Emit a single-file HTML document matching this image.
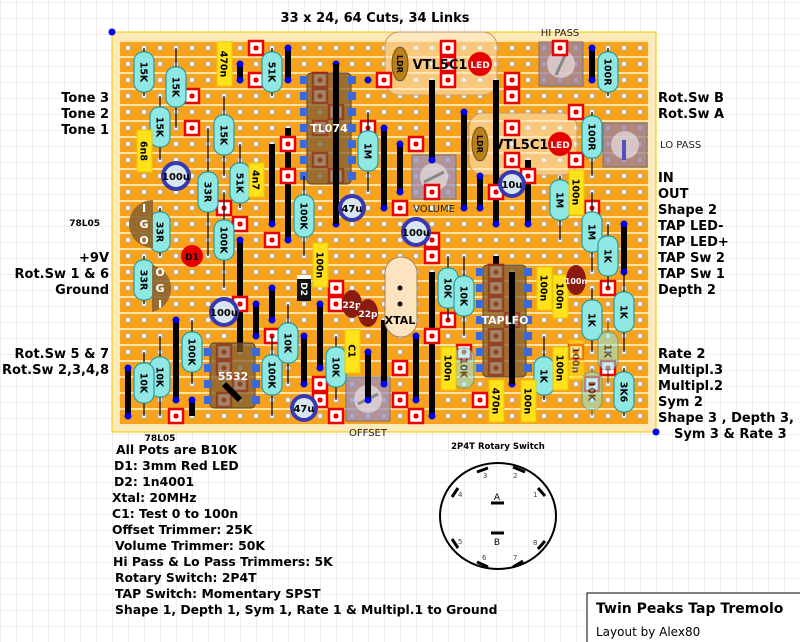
<!DOCTYPE html>
<html><head><meta charset="utf-8"><style>
html,body{margin:0;padding:0;background:#fff}
svg{display:block}
text{font-family:"DejaVu Sans","Liberation Sans",sans-serif}
.lb{font-size:13px;font-weight:bold;fill:#000}
.lb2{font-size:12.4px;font-weight:bold;fill:#000}
.ct{font-size:9.5px;font-weight:bold;fill:#000}
.r rect{fill:#8fe8e4;stroke:#2a9a9a;stroke-width:1.2}
.fd{opacity:.55}
.y rect{fill:#ffe21a;stroke:#e8c800}
.bd{fill:#0000ee}
.lk{stroke:#000;stroke-width:6}
.ld{stroke:#000;stroke-width:1.2}
.ic{fill:#7a5a30;fill-opacity:.72;stroke:#5a4020}
</style></head><body>
<svg width="800" height="642" viewBox="0 0 800 642" xmlns="http://www.w3.org/2000/svg">
<defs>
<pattern id="grid" x="0" y="2" width="16" height="16" patternUnits="userSpaceOnUse">
<path d="M0 0H16M0 0V16" stroke="#dcdcdc" stroke-width="1" fill="none"/></pattern>
<pattern id="strip" x="120" y="40" width="16" height="16" patternUnits="userSpaceOnUse">
<rect width="16" height="16" fill="#f7a21d"/><rect y="0" width="16" height="2" fill="#fde3a8"/>
<circle cx="8" cy="8" r="2.6" fill="#f4f4f4" stroke="#a8a8a8" stroke-width="0.8"/></pattern>
<g id="cut"><rect x="-7" y="-7" width="14" height="14" fill="#fff" stroke="#e00" stroke-width="2.5"/><circle r="2.6" fill="#e00"/></g>
</defs>
<rect width="800" height="642" fill="#fff"/>
<rect width="800" height="642" fill="url(#grid)"/>
<text x="375" y="22" class="lb" text-anchor="middle">33 x 24, 64 Cuts, 34 Links</text>
<!-- board -->
<rect x="112" y="32" width="544" height="400" fill="#fdeab8" stroke="#f0c800"/>
<rect x="120" y="40" width="528" height="384" fill="url(#strip)"/>
<circle cx="112" cy="32" r="3.5" class="bd"/><circle cx="656" cy="432" r="3.5" class="bd"/>

<!-- VTL boxes -->
<rect x="385" y="32" width="112" height="63" rx="14" fill="#fde8c8" fill-opacity=".55" stroke="#c89a60"/>
<rect x="469" y="113" width="108" height="62" rx="14" fill="#fde8c8" fill-opacity=".55" stroke="#c89a60"/>

<!-- trimmers -->
<g>
<rect x="412" y="155" width="44" height="44" fill="#9a8fc0" fill-opacity=".75" stroke="#777"/><circle cx="434" cy="177" r="14" fill="#eee" fill-opacity=".6"/><line x1="424" y1="182" x2="444" y2="172" stroke="#888" stroke-width="3"/>
<rect x="346" y="377" width="44" height="44" fill="#9a8fc0" fill-opacity=".75" stroke="#777"/><circle cx="368" cy="399" r="14" fill="#eee" fill-opacity=".6"/><line x1="358" y1="404" x2="378" y2="394" stroke="#888" stroke-width="3"/>
<rect x="539" y="42" width="44" height="44" fill="#9a7fa0" fill-opacity=".75" stroke="#777"/><circle cx="561" cy="64" r="14" fill="#eee" fill-opacity=".6"/><line x1="556" y1="75" x2="566" y2="53" stroke="#888" stroke-width="3"/>
<rect x="603" y="123" width="44" height="44" fill="#9a7fa0" fill-opacity=".75" stroke="#777"/><circle cx="625" cy="145" r="14" fill="#eee" fill-opacity=".6"/><line x1="624" y1="140" x2="624" y2="160" stroke="#5050c0" stroke-width="4"/>
</g>
<text x="434" y="212" font-size="10" text-anchor="middle" fill="#222">VOLUME</text>
<text x="368" y="436" font-size="10" text-anchor="middle" fill="#222">OFFSET</text>
<text x="560" y="36" font-size="10" text-anchor="middle" fill="#222">HI PASS</text>
<text x="660" y="148" font-size="10" fill="#222">LO PASS</text>

<!-- links -->
<g class="lk">
<line x1="240" y1="64" x2="240" y2="80"/><line x1="288" y1="48" x2="288" y2="80"/>
<line x1="272" y1="144" x2="272" y2="224"/><line x1="288" y1="128" x2="288" y2="240"/>
<line x1="384" y1="128" x2="384" y2="208"/><line x1="400" y1="144" x2="400" y2="192"/>
<line x1="432" y1="80" x2="432" y2="160"/><line x1="464" y1="112" x2="464" y2="208"/>
<line x1="496" y1="80" x2="496" y2="224"/><line x1="528" y1="160" x2="528" y2="224"/>
<line x1="480" y1="176" x2="480" y2="208"/><line x1="592" y1="48" x2="592" y2="80"/>
<line x1="624" y1="224" x2="624" y2="272"/><line x1="496" y1="256" x2="496" y2="272"/>
<line x1="240" y1="240" x2="240" y2="352"/><line x1="256" y1="304" x2="256" y2="336"/>
<line x1="272" y1="288" x2="272" y2="320"/><line x1="304" y1="336" x2="304" y2="384"/>
<line x1="176" y1="320" x2="176" y2="400"/><line x1="128" y1="368" x2="128" y2="416"/>
<line x1="192" y1="400" x2="192" y2="416"/><line x1="320" y1="304" x2="320" y2="368"/>
<line x1="384" y1="320" x2="384" y2="384"/><line x1="432" y1="272" x2="432" y2="416"/>
<line x1="416" y1="336" x2="416" y2="400"/><line x1="368" y1="352" x2="368" y2="400"/>
</g>
<g class="bd">
<circle cx="240" cy="64" r="3.5"/><circle cx="240" cy="80" r="3.5"/><circle cx="288" cy="48" r="3.5"/><circle cx="288" cy="80" r="3.5"/>
<circle cx="272" cy="224" r="3.5"/><circle cx="288" cy="240" r="3.5"/><circle cx="336" cy="224" r="3.5"/><circle cx="368" cy="80" r="3.5"/>
<circle cx="384" cy="128" r="3.5"/><circle cx="384" cy="208" r="3.5"/><circle cx="400" cy="144" r="3.5"/><circle cx="400" cy="192" r="3.5"/>
<circle cx="432" cy="160" r="3.5"/><circle cx="464" cy="112" r="3.5"/><circle cx="464" cy="208" r="3.5"/><circle cx="496" cy="224" r="3.5"/>
<circle cx="528" cy="224" r="3.5"/><circle cx="480" cy="176" r="3.5"/><circle cx="480" cy="208" r="3.5"/><circle cx="592" cy="48" r="3.5"/><circle cx="592" cy="80" r="3.5"/>
<circle cx="624" cy="224" r="3.5"/><circle cx="624" cy="272" r="3.5"/><circle cx="240" cy="240" r="3.5"/><circle cx="256" cy="304" r="3.5"/><circle cx="256" cy="336" r="3.5"/>
<circle cx="272" cy="288" r="3.5"/><circle cx="272" cy="320" r="3.5"/><circle cx="304" cy="336" r="3.5"/><circle cx="304" cy="384" r="3.5"/>
<circle cx="176" cy="320" r="3.5"/><circle cx="176" cy="400" r="3.5"/><circle cx="128" cy="368" r="3.5"/><circle cx="128" cy="416" r="3.5"/>
<circle cx="192" cy="400" r="3.5"/><circle cx="320" cy="304" r="3.5"/><circle cx="320" cy="368" r="3.5"/><circle cx="384" cy="384" r="3.5"/>
<circle cx="432" cy="416" r="3.5"/><circle cx="416" cy="336" r="3.5"/><circle cx="416" cy="400" r="3.5"/><circle cx="368" cy="352" r="3.5"/><circle cx="368" cy="400" r="3.5"/>
<circle cx="512" cy="384" r="3.5"/><circle cx="336" cy="64" r="3.5"/>
</g>

<!-- cuts -->
<g>
<use href="#cut" x="256" y="48"/><use href="#cut" x="256" y="80"/><use href="#cut" x="192" y="96"/><use href="#cut" x="192" y="128"/>
<use href="#cut" x="288" y="144"/><use href="#cut" x="224" y="208"/><use href="#cut" x="240" y="224"/><use href="#cut" x="272" y="240"/>
<use href="#cut" x="288" y="176"/><use href="#cut" x="384" y="80"/><use href="#cut" x="448" y="48"/><use href="#cut" x="448" y="80"/>
<use href="#cut" x="368" y="128"/><use href="#cut" x="416" y="144"/><use href="#cut" x="432" y="192"/><use href="#cut" x="400" y="208"/>
<use href="#cut" x="512" y="80"/><use href="#cut" x="512" y="96"/><use href="#cut" x="576" y="112"/><use href="#cut" x="512" y="128"/>
<use href="#cut" x="512" y="160"/><use href="#cut" x="576" y="160"/><use href="#cut" x="528" y="176"/><use href="#cut" x="496" y="192"/>
<use href="#cut" x="592" y="208"/><use href="#cut" x="608" y="288"/><use href="#cut" x="608" y="368"/><use href="#cut" x="592" y="384"/>
<use href="#cut" x="576" y="352"/><use href="#cut" x="480" y="400"/><use href="#cut" x="448" y="320"/><use href="#cut" x="432" y="240"/>
<use href="#cut" x="432" y="256"/><use href="#cut" x="432" y="336"/><use href="#cut" x="464" y="352"/><use href="#cut" x="336" y="288"/>
<use href="#cut" x="336" y="304"/><use href="#cut" x="320" y="384"/><use href="#cut" x="320" y="400"/><use href="#cut" x="336" y="416"/>
<use href="#cut" x="416" y="416"/><use href="#cut" x="400" y="368"/><use href="#cut" x="400" y="400"/><use href="#cut" x="240" y="304"/>
<use href="#cut" x="272" y="336"/><use href="#cut" x="176" y="416"/><use href="#cut" x="560" y="48"/><use href="#cut" x="448" y="64"/>
<use href="#cut" x="320" y="80"/><use href="#cut" x="320" y="96"/><use href="#cut" x="336" y="112"/><use href="#cut" x="320" y="128"/>
<use href="#cut" x="320" y="160"/><use href="#cut" x="336" y="176"/>
<use href="#cut" x="496" y="272"/><use href="#cut" x="496" y="288"/><use href="#cut" x="496" y="304"/><use href="#cut" x="512" y="320"/>
<use href="#cut" x="496" y="336"/><use href="#cut" x="496" y="352"/><use href="#cut" x="496" y="368"/>
<use href="#cut" x="224" y="352"/><use href="#cut" x="224" y="368"/><use href="#cut" x="240" y="384"/><use href="#cut" x="224" y="400"/>
</g>

<!-- ICs (on top of cuts) -->
<g>
<rect x="307" y="73" width="44" height="111" rx="4" class="ic"/>
<line x1="336" y1="64" x2="336" y2="224" class="lk"/>
<g fill="#3a6ae0"><rect x="300" y="76" width="8" height="8"/><rect x="300" y="92" width="8" height="8"/><rect x="300" y="108" width="8" height="8"/><rect x="300" y="124" width="8" height="8"/><rect x="300" y="140" width="8" height="8"/><rect x="300" y="156" width="8" height="8"/><rect x="300" y="172" width="8" height="8"/>
<rect x="348" y="76" width="8" height="8"/><rect x="348" y="92" width="8" height="8"/><rect x="348" y="108" width="8" height="8"/><rect x="348" y="124" width="8" height="8"/><rect x="348" y="140" width="8" height="8"/><rect x="348" y="156" width="8" height="8"/><rect x="348" y="172" width="8" height="8"/></g>
<text x="329" y="132" font-size="11" font-weight="bold" fill="#fff" text-anchor="middle">TL074</text>
<rect x="483" y="265" width="43" height="112" rx="4" class="ic"/>
<line x1="512" y1="272" x2="512" y2="384" class="lk"/>
<g fill="#3a6ae0"><rect x="476" y="268" width="8" height="8"/><rect x="476" y="284" width="8" height="8"/><rect x="476" y="300" width="8" height="8"/><rect x="476" y="316" width="8" height="8"/><rect x="476" y="332" width="8" height="8"/><rect x="476" y="348" width="8" height="8"/><rect x="476" y="364" width="8" height="8"/>
<rect x="524" y="268" width="8" height="8"/><rect x="524" y="284" width="8" height="8"/><rect x="524" y="300" width="8" height="8"/><rect x="524" y="316" width="8" height="8"/><rect x="524" y="332" width="8" height="8"/><rect x="524" y="348" width="8" height="8"/><rect x="524" y="364" width="8" height="8"/></g>
<text x="505" y="324" font-size="11" font-weight="bold" fill="#fff" text-anchor="middle">TAPLFO</text>
<rect x="210" y="343" width="45" height="65" rx="4" class="ic"/>
<g fill="#3a6ae0"><rect x="204" y="348" width="8" height="8"/><rect x="204" y="364" width="8" height="8"/><rect x="204" y="380" width="8" height="8"/><rect x="204" y="396" width="8" height="8"/>
<rect x="252" y="348" width="8" height="8"/><rect x="252" y="364" width="8" height="8"/><rect x="252" y="380" width="8" height="8"/><rect x="252" y="396" width="8" height="8"/></g>
<line x1="224" y1="384" x2="240" y2="400" class="lk"/>
<text x="233" y="380" font-size="11" font-weight="bold" fill="#fff" text-anchor="middle">5532</text>
</g>

<!-- resistors -->
<g class="r">
<g><line x1="144" y1="48" x2="144" y2="96" class="ld"/><rect x="134" y="52" width="20" height="40" rx="9"/><text class="ct" transform="translate(144,72) rotate(90)" text-anchor="middle" dy="3.5">15K</text></g>
<g><line x1="176" y1="48" x2="176" y2="128" class="ld"/><rect x="166" y="67" width="20" height="40" rx="9"/><text class="ct" transform="translate(176,87) rotate(90)" text-anchor="middle" dy="3.5">15K</text></g>
<g><line x1="160" y1="96" x2="160" y2="160" class="ld"/><rect x="150" y="107" width="20" height="40" rx="9"/><text class="ct" transform="translate(160,127) rotate(90)" text-anchor="middle" dy="3.5">15K</text></g>
<g><line x1="224" y1="96" x2="224" y2="176" class="ld"/><rect x="214" y="115" width="20" height="40" rx="9"/><text class="ct" transform="translate(224,135) rotate(90)" text-anchor="middle" dy="3.5">15K</text></g>
<g><line x1="272" y1="48" x2="272" y2="96" class="ld"/><rect x="262" y="52" width="20" height="40" rx="9"/><text class="ct" transform="translate(272,72) rotate(90)" text-anchor="middle" dy="3.5">51K</text></g>
<g><line x1="208" y1="128" x2="208" y2="256" class="ld"/><rect x="198" y="172" width="20" height="40" rx="9"/><text class="ct" transform="translate(208,192) rotate(90)" text-anchor="middle" dy="3.5">33R</text></g>
<g><line x1="240" y1="144" x2="240" y2="208" class="ld"/><rect x="230" y="163" width="20" height="40" rx="9"/><text class="ct" transform="translate(240,183) rotate(90)" text-anchor="middle" dy="3.5">51K</text></g>
<g><line x1="224" y1="192" x2="224" y2="288" class="ld"/><rect x="214" y="220" width="20" height="40" rx="9"/><text class="ct" transform="translate(224,240) rotate(90)" text-anchor="middle" dy="3.5">100K</text></g>
<g><line x1="304" y1="176" x2="304" y2="256" class="ld"/><rect x="294" y="195" width="20" height="42" rx="9"/><text class="ct" transform="translate(304,216) rotate(90)" text-anchor="middle" dy="3.5">100K</text></g>
<g><line x1="160" y1="208" x2="160" y2="256" class="ld"/><rect x="150" y="212" width="20" height="40" rx="9"/><text class="ct" transform="translate(160,232) rotate(90)" text-anchor="middle" dy="3.5">33R</text></g>
<g><line x1="144" y1="256" x2="144" y2="304" class="ld"/><rect x="134" y="260" width="20" height="40" rx="9"/><text class="ct" transform="translate(144,280) rotate(90)" text-anchor="middle" dy="3.5">33R</text></g>
<g><line x1="192" y1="320" x2="192" y2="384" class="ld"/><rect x="182" y="332" width="20" height="40" rx="9"/><text class="ct" transform="translate(192,352) rotate(90)" text-anchor="middle" dy="3.5">100K</text></g>
<g><line x1="160" y1="336" x2="160" y2="416" class="ld"/><rect x="150" y="357" width="20" height="40" rx="9"/><text class="ct" transform="translate(160,377) rotate(90)" text-anchor="middle" dy="3.5">10K</text></g>
<g><line x1="144" y1="352" x2="144" y2="416" class="ld"/><rect x="134" y="363" width="20" height="40" rx="9"/><text class="ct" transform="translate(144,383) rotate(90)" text-anchor="middle" dy="3.5">10K</text></g>
<g><line x1="272" y1="336" x2="272" y2="416" class="ld"/><rect x="262" y="355" width="20" height="40" rx="9"/><text class="ct" transform="translate(272,375) rotate(90)" text-anchor="middle" dy="3.5">100K</text></g>
<g><line x1="288" y1="304" x2="288" y2="384" class="ld"/><rect x="278" y="323" width="20" height="40" rx="9"/><text class="ct" transform="translate(288,343) rotate(90)" text-anchor="middle" dy="3.5">10K</text></g>
<g><line x1="368" y1="112" x2="368" y2="192" class="ld"/><rect x="358" y="131" width="20" height="40" rx="9"/><text class="ct" transform="translate(368,151) rotate(90)" text-anchor="middle" dy="3.5">1M</text></g>
<g><line x1="336" y1="336" x2="336" y2="400" class="ld"/><rect x="326" y="347" width="20" height="40" rx="9"/><text class="ct" transform="translate(336,367) rotate(90)" text-anchor="middle" dy="3.5">10K</text></g>
<g><line x1="448" y1="256" x2="448" y2="320" class="ld"/><rect x="438" y="268" width="20" height="40" rx="9"/><text class="ct" transform="translate(448,288) rotate(90)" text-anchor="middle" dy="3.5">10K</text></g>
<g><line x1="464" y1="256" x2="464" y2="336" class="ld"/><rect x="454" y="276" width="20" height="40" rx="9"/><text class="ct" transform="translate(464,296) rotate(90)" text-anchor="middle" dy="3.5">10K</text></g>
<g class="fd"><line x1="464" y1="352" x2="464" y2="384" class="ld"/><rect x="454" y="348" width="20" height="40" rx="9"/><text class="ct" transform="translate(464,368) rotate(90)" text-anchor="middle" dy="3.5">10K</text></g>
<g><line x1="560" y1="176" x2="560" y2="240" class="ld"/><rect x="550" y="180" width="20" height="40" rx="9"/><text class="ct" transform="translate(560,200) rotate(90)" text-anchor="middle" dy="3.5">1M</text></g>
<g><line x1="592" y1="192" x2="592" y2="272" class="ld"/><rect x="582" y="212" width="20" height="40" rx="9"/><text class="ct" transform="translate(592,232) rotate(90)" text-anchor="middle" dy="3.5">1M</text></g>
<g><line x1="608" y1="224" x2="608" y2="288" class="ld"/><rect x="598" y="236" width="20" height="40" rx="9"/><text class="ct" transform="translate(608,256) rotate(90)" text-anchor="middle" dy="3.5">1K</text></g>
<g><line x1="592" y1="288" x2="592" y2="352" class="ld"/><rect x="582" y="300" width="20" height="40" rx="9"/><text class="ct" transform="translate(592,320) rotate(90)" text-anchor="middle" dy="3.5">1K</text></g>
<g><line x1="624" y1="272" x2="624" y2="352" class="ld"/><rect x="614" y="292" width="20" height="40" rx="9"/><text class="ct" transform="translate(624,312) rotate(90)" text-anchor="middle" dy="3.5">1K</text></g>
<g class="fd"><line x1="608" y1="320" x2="608" y2="384" class="ld"/><rect x="598" y="332" width="20" height="38" rx="9"/><text class="ct" transform="translate(608,351) rotate(90)" text-anchor="middle" dy="3.5">1K</text></g>
<g class="fd"><line x1="592" y1="368" x2="592" y2="416" class="ld"/><rect x="582" y="372" width="20" height="38" rx="9"/><text class="ct" transform="translate(592,391) rotate(90)" text-anchor="middle" dy="3.5">10K</text></g>
<g><line x1="624" y1="368" x2="624" y2="416" class="ld"/><rect x="614" y="372" width="20" height="40" rx="9"/><text class="ct" transform="translate(624,392) rotate(90)" text-anchor="middle" dy="3.5">3K6</text></g>
<g><line x1="544" y1="336" x2="544" y2="400" class="ld"/><rect x="534" y="357" width="20" height="38" rx="9"/><text class="ct" transform="translate(544,376) rotate(90)" text-anchor="middle" dy="3.5">1K</text></g>
<g><line x1="608" y1="48" x2="608" y2="96" class="ld"/><rect x="598" y="52" width="20" height="40" rx="9"/><text class="ct" transform="translate(608,72) rotate(90)" text-anchor="middle" dy="3.5">100R</text></g>
<g><line x1="592" y1="112" x2="592" y2="176" class="ld"/><rect x="582" y="116" width="20" height="42" rx="9"/><text class="ct" transform="translate(592,137) rotate(90)" text-anchor="middle" dy="3.5">100R</text></g>
</g>

<!-- film caps -->
<g class="y">
<g><rect x="217" y="42" width="15" height="44"/><text class="ct" transform="translate(224,64) rotate(90)" text-anchor="middle" dy="3.5">470n</text></g>
<g><rect x="137" y="130" width="15" height="42"/><text class="ct" transform="translate(144,151) rotate(90)" text-anchor="middle" dy="3.5">6n8</text></g>
<g><rect x="249" y="163" width="15" height="34"/><text class="ct" transform="translate(256,180) rotate(90)" text-anchor="middle" dy="3.5">4n7</text></g>
<g><rect x="313" y="243" width="15" height="44"/><text class="ct" transform="translate(320,265) rotate(90)" text-anchor="middle" dy="3.5">100n</text></g>
<g><rect x="345" y="330" width="15" height="43"/><text class="ct" transform="translate(352,351) rotate(90)" text-anchor="middle" dy="3.5">C1</text></g>
<g><rect x="441" y="347" width="15" height="43"/><text class="ct" transform="translate(448,368) rotate(90)" text-anchor="middle" dy="3.5">100n</text></g>
<g><rect x="489" y="380" width="15" height="42"/><text class="ct" transform="translate(496,401) rotate(90)" text-anchor="middle" dy="3.5">470n</text></g>
<g><rect x="521" y="380" width="15" height="42"/><text class="ct" transform="translate(528,401) rotate(90)" text-anchor="middle" dy="3.5">100n</text></g>
<g><rect x="537" y="267" width="15" height="43"/><text class="ct" transform="translate(544,288) rotate(90)" text-anchor="middle" dy="3.5">100n</text></g>
<g><rect x="553" y="275" width="15" height="43"/><text class="ct" transform="translate(560,296) rotate(90)" text-anchor="middle" dy="3.5">100n</text></g>
<g><rect x="553" y="347" width="15" height="43"/><text class="ct" transform="translate(560,368) rotate(90)" text-anchor="middle" dy="3.5">100n</text></g>
<g><rect x="569" y="170" width="15" height="45"/><text class="ct" transform="translate(576,192) rotate(90)" text-anchor="middle" dy="3.5">100n</text></g>
<g class="fd"><rect x="569" y="340" width="15" height="40"/><text class="ct" transform="translate(576,360) rotate(90)" text-anchor="middle" dy="3.5">100n</text></g>
</g>

<!-- electrolytics -->
<g font-size="10" font-weight="bold" text-anchor="middle">
<circle cx="176" cy="176" r="15" fill="#3838b0"/><circle cx="176" cy="176" r="11" fill="#d8e6f0"/><text x="176" y="180">100u</text>
<circle cx="224" cy="312" r="15" fill="#3838b0"/><circle cx="224" cy="312" r="11" fill="#d8e6f0"/><text x="224" y="316">100u</text>
<circle cx="352" cy="208" r="14" fill="#3838b0"/><circle cx="352" cy="208" r="10" fill="#d8e6f0"/><text x="352" y="212">47u</text>
<circle cx="416" cy="232" r="15" fill="#3838b0"/><circle cx="416" cy="232" r="11" fill="#d8e6f0"/><text x="416" y="236">100u</text>
<circle cx="512" cy="184" r="14" fill="#3838b0"/><circle cx="512" cy="184" r="10" fill="#d8e6f0"/><text x="512" y="188">10u</text>
<circle cx="304" cy="408" r="14" fill="#3838b0"/><circle cx="304" cy="408" r="10" fill="#d8e6f0"/><text x="304" y="412">47u</text>
</g>

<!-- misc parts -->
<rect x="385" y="257" width="32" height="80" rx="16" fill="#fde3c0" stroke="#a08060"/>
<circle cx="400" cy="288" r="2.5" fill="#000"/><circle cx="400" cy="304" r="2.5" fill="#000"/>
<text x="400" y="324" font-size="11" font-weight="bold" text-anchor="middle">XTAL</text>
<ellipse cx="352" cy="304" rx="10" ry="14" fill="#8b1a10"/><text x="352" y="308" font-size="9" font-weight="bold" fill="#fff" text-anchor="middle">22p</text>
<ellipse cx="368" cy="313" rx="10" ry="14" fill="#8b1a10"/><text x="368" y="317" font-size="9" font-weight="bold" fill="#fff" text-anchor="middle">22p</text>
<ellipse cx="576" cy="280" rx="10" ry="15" fill="#8b1a10"/><text x="576" y="284" font-size="8" font-weight="bold" fill="#fff" text-anchor="middle">100n</text>
<rect x="297" y="275" width="14" height="26" fill="#111"/><rect x="297" y="275" width="14" height="4" fill="#fff"/>
<text transform="translate(304,289) rotate(90)" font-size="9" font-weight="bold" fill="#fff" text-anchor="middle" dy="3">D2</text>
<circle cx="192" cy="256" r="11" fill="#e60000"/><text x="192" y="260" font-size="9" font-weight="bold" fill="#000" text-anchor="middle">D1</text>
<path d="M153 200 A24 24 0 0 0 153 248 Z" fill="#8b6530" fill-opacity=".9"/>
<g font-size="11" font-weight="bold" fill="#fff" text-anchor="middle"><text x="144" y="212">I</text><text x="144" y="228">G</text><text x="144" y="244">O</text></g>
<path d="M152 265 A24 24 0 0 1 152 312 Z" fill="#8b6530" fill-opacity=".9"/>
<g font-size="11" font-weight="bold" fill="#fff" text-anchor="middle"><text x="160" y="276">O</text><text x="160" y="292">G</text><text x="160" y="308">I</text></g>
<!-- VTL parts -->
<ellipse cx="400" cy="64" rx="8" ry="17" fill="#b8801a" stroke="#7a5010"/><text transform="translate(400,64) rotate(90)" font-size="8" font-weight="bold" text-anchor="middle" dy="3">LDR</text>
<circle cx="480" cy="64" r="12" fill="#e60000"/><text x="480" y="68" font-size="9" font-weight="bold" fill="#fff" text-anchor="middle">LED</text>
<text x="440" y="69" font-size="13" font-weight="bold" text-anchor="middle">VTL5C1</text>
<ellipse cx="480" cy="144" rx="8" ry="17" fill="#b8801a" stroke="#7a5010"/><text transform="translate(480,144) rotate(90)" font-size="8" font-weight="bold" text-anchor="middle" dy="3">LDR</text>
<circle cx="560" cy="144" r="12" fill="#e60000"/><text x="560" y="148" font-size="9" font-weight="bold" fill="#fff" text-anchor="middle">LED</text>
<text x="521" y="149" font-size="13" font-weight="bold" text-anchor="middle">VTL5C1</text>

<!-- labels -->
<g class="lb" text-anchor="end">
<text x="109" y="102">Tone 3</text><text x="109" y="118">Tone 2</text><text x="109" y="134">Tone 1</text>
<text x="109" y="262">+9V</text><text x="109" y="278">Rot.Sw 1 &amp; 6</text><text x="109" y="294">Ground</text>
<text x="109" y="358">Rot.Sw 5 &amp; 7</text><text x="109" y="374">Rot.Sw 2,3,4,8</text>
</g>
<text x="100" y="226" font-size="9" font-weight="bold" text-anchor="end">78L05</text>
<text x="160" y="441" font-size="9" font-weight="bold" text-anchor="middle">78L05</text>
<g class="lb">
<text x="658" y="102">Rot.Sw B</text><text x="658" y="118">Rot.Sw A</text>
<text x="658" y="182">IN</text><text x="658" y="198">OUT</text><text x="658" y="214">Shape 2</text>
<text x="658" y="230">TAP LED-</text><text x="658" y="246">TAP LED+</text><text x="658" y="262">TAP Sw 2</text>
<text x="658" y="278">TAP Sw 1</text><text x="658" y="294">Depth 2</text>
<text x="658" y="358">Rate 2</text><text x="658" y="374">Multipl.3</text><text x="658" y="390">Multipl.2</text>
<text x="658" y="406">Sym 2</text><text x="658" y="422">Shape 3 , Depth 3,</text><text x="674" y="438">Sym 3 &amp; Rate 3</text>
</g>
<g class="lb2">
<text x="116" y="454">All Pots are B10K</text><text x="114" y="470">D1: 3mm Red LED</text>
<text x="114" y="486">D2: 1n4001</text><text x="112" y="502">Xtal: 20MHz</text>
<text x="112" y="518">C1: Test 0 to 100n</text><text x="112" y="534">Offset Trimmer: 25K</text>
<text x="115" y="550">Volume Trimmer: 50K</text><text x="113" y="566">Hi Pass &amp; Lo Pass Trimmers: 5K</text>
<text x="115" y="582">Rotary Switch: 2P4T</text><text x="115" y="598">TAP Switch: Momentary SPST</text>
<text x="115" y="614">Shape 1, Depth 1, Sym 1, Rate 1 &amp; Multipl.1 to Ground</text>
</g>
<!-- rotary switch -->
<text x="498" y="449" font-size="8.5" font-weight="bold" text-anchor="middle">2P4T Rotary Switch</text>
<ellipse cx="498" cy="516" rx="58" ry="53" fill="none" stroke="#000" stroke-width="2"/>
<g stroke="#000" stroke-width="3">
<line x1="477" y1="472" x2="488" y2="468"/><line x1="513" y1="467" x2="525" y2="472"/>
<line x1="538" y1="488" x2="545" y2="496"/><line x1="458" y1="488" x2="452" y2="497"/>
<line x1="452" y1="539" x2="458" y2="548"/><line x1="477" y1="562" x2="488" y2="567"/>
<line x1="513" y1="567" x2="523" y2="561"/><line x1="538" y1="549" x2="545" y2="541"/>
<line x1="491" y1="503" x2="504" y2="503"/><line x1="491" y1="533" x2="504" y2="533"/>
</g>
<g font-size="7" fill="#444"><text x="483" y="478">3</text><text x="513" y="478">2</text><text x="533" y="497">1</text><text x="458" y="497">4</text>
<text x="458" y="544">5</text><text x="482" y="560">6</text><text x="513" y="560">7</text><text x="533" y="545">8</text></g>
<text x="497" y="500" font-size="9" text-anchor="middle">A</text><text x="497" y="545" font-size="9" text-anchor="middle">B</text>
<!-- title -->
<rect x="587" y="593" width="220" height="60" fill="#fff" stroke="#000"/>
<text x="596" y="613" font-size="14" font-weight="bold">Twin Peaks Tap Tremolo</text>
<text x="596" y="636" font-size="12">Layout by Alex80</text>
</svg>
</body></html>
